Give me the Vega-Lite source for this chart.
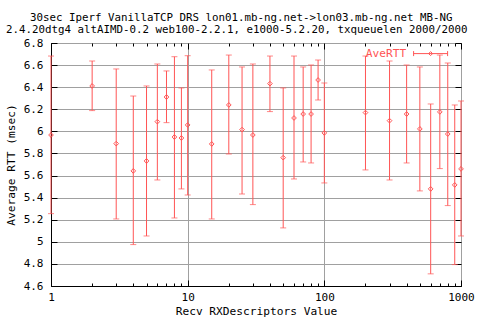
{
  "$schema": "https://vega.github.io/schema/vega-lite/v6.json",
  "width": 410,
  "height": 243,
  "autosize": {"type": "none"},
  "padding": {"left": 51, "top": 43, "right": 19, "bottom": 34},
  "background": "white",
  "title": {
    "text": ["\u2800\u2800\u280030sec Iperf VanillaTCP DRS lon01.mb-ng.net->lon03.mb-ng.net MB-NG", "2.4.20dtg4 altAIMD-0.2 web100-2.2.1, e1000-5.2.20, txqueuelen 2000/2000"],
    "anchor": "start",
    "frame": "group",
    "dx": -45,
    "offset": 2,
    "font": "DejaVu Sans Mono",
    "fontSize": 10.8,
    "fontWeight": "normal",
    "lineHeight": 12,
    "color": "black"
  },
  "config": {
    "view": {"stroke": "black", "strokeWidth": 1},
    "axis": {
      "domainColor": "black",
      "tickColor": "black",
      "gridColor": "#a0a0a0",
      "gridOpacity": 1,
      "labelFont": "DejaVu Sans Mono",
      "labelFontSize": 11,
      "labelColor": "black",
      "titleFont": "DejaVu Sans Mono",
      "titleFontSize": 11.2,
      "titleFontWeight": "normal",
      "titleColor": "black"
    },
    "legend": {
      "labelFont": "DejaVu Sans Mono",
      "labelFontSize": 11.2,
      "labelColor": "#ff5555"
    }
  },
  "data": {
    "values": [
      {"x": 1, "y": 5.967, "lo": 5.255, "hi": 6.682},
      {"x": 2, "y": 6.411, "lo": 6.188, "hi": 6.637},
      {"x": 3, "y": 5.889, "lo": 5.207, "hi": 6.565},
      {"x": 4, "y": 5.642, "lo": 4.975, "hi": 6.320},
      {"x": 5, "y": 5.732, "lo": 5.053, "hi": 6.411},
      {"x": 6, "y": 6.088, "lo": 5.560, "hi": 6.610},
      {"x": 7, "y": 6.311, "lo": 6.079, "hi": 6.547},
      {"x": 8, "y": 5.949, "lo": 5.216, "hi": 6.676},
      {"x": 9, "y": 5.940, "lo": 5.479, "hi": 6.393},
      {"x": 10, "y": 6.058, "lo": 5.424, "hi": 6.685},
      {"x": 15, "y": 5.886, "lo": 5.207, "hi": 6.556},
      {"x": 20, "y": 6.239, "lo": 5.795, "hi": 6.691},
      {"x": 25, "y": 6.016, "lo": 5.433, "hi": 6.583},
      {"x": 30, "y": 5.967, "lo": 5.337, "hi": 6.610},
      {"x": 40, "y": 6.432, "lo": 6.179, "hi": 6.682},
      {"x": 50, "y": 5.762, "lo": 5.126, "hi": 6.393},
      {"x": 60, "y": 6.121, "lo": 5.569, "hi": 6.682},
      {"x": 70, "y": 6.157, "lo": 5.723, "hi": 6.583},
      {"x": 80, "y": 6.157, "lo": 5.714, "hi": 6.601},
      {"x": 90, "y": 6.465, "lo": 6.284, "hi": 6.646},
      {"x": 100, "y": 5.986, "lo": 5.533, "hi": 6.438},
      {"x": 200, "y": 6.170, "lo": 5.651, "hi": 6.682},
      {"x": 300, "y": 6.097, "lo": 5.560, "hi": 6.637},
      {"x": 400, "y": 6.157, "lo": 5.714, "hi": 6.601},
      {"x": 500, "y": 6.022, "lo": 5.461, "hi": 6.583},
      {"x": 600, "y": 5.479, "lo": 4.710, "hi": 6.248},
      {"x": 700, "y": 6.176, "lo": 5.663, "hi": 6.691},
      {"x": 800, "y": 5.976, "lo": 5.328, "hi": 6.619},
      {"x": 900, "y": 5.515, "lo": 4.794, "hi": 6.239},
      {"x": 1000, "y": 5.660, "lo": 5.053, "hi": 6.275}
    ]
  },
  "layer": [
    {
      "mark": {"type": "rule", "color": "#ff5555", "strokeWidth": 1},
      "encoding": {
        "x": {
          "field": "x", "type": "quantitative",
          "scale": {"type": "log", "domain": [1, 1000], "nice": false},
          "axis": {"orient": "bottom", "values": [1, 10, 100, 1000], "grid": true, "tickSize": -6, "labelPadding": 11, "format": "d", "labelFlush": false, "title": "Recv RXDescriptors Value", "titlePadding": 3}
        },
        "y": {
          "field": "lo", "type": "quantitative",
          "scale": {"domain": [4.6, 6.8], "nice": false, "zero": false},
          "axis": {"orient": "left", "values": [4.6, 4.8, 5.0, 5.2, 5.4, 5.6, 5.8, 6.0, 6.2, 6.4, 6.6, 6.8], "format": "~r", "grid": true, "tickSize": -6, "labelPadding": 14, "labelFlush": false, "title": "Average RTT (msec)", "titlePadding": 7}
        },
        "y2": {"field": "hi"}
      }
    },
    {
      "mark": {"type": "tick", "orient": "horizontal", "color": "#ff5555", "size": 6, "thickness": 1},
      "encoding": {
        "x": {"field": "x", "type": "quantitative",
          "axis": {"orient": "bottom", "values": [2,3,4,5,6,7,8,9,20,30,40,50,60,70,80,90,200,300,400,500,600,700,800,900], "grid": false, "labels": false, "domain": false, "tickSize": -3, "title": null}},
        "y": {"field": "hi", "type": "quantitative",
          "axis": {"orient": "right", "values": [4.6, 4.8, 5.0, 5.2, 5.4, 5.6, 5.8, 6.0, 6.2, 6.4, 6.6, 6.8], "grid": false, "labels": false, "domain": false, "tickSize": -6, "title": null}}
      }
    },
    {
      "mark": {"type": "tick", "orient": "horizontal", "color": "#ff5555", "size": 6, "thickness": 1},
      "encoding": {
        "x": {"field": "x", "type": "quantitative",
          "axis": {"orient": "top", "values": [1, 10, 100, 1000], "grid": false, "labels": false, "domain": false, "tickSize": -6, "title": null}},
        "y": {"field": "lo", "type": "quantitative", "axis": null}
      }
    },
    {
      "mark": {"type": "point", "shape": "diamond", "filled": false, "size": 22, "strokeWidth": 1, "opacity": 1},
      "encoding": {
        "x": {"field": "x", "type": "quantitative",
          "axis": {"orient": "top", "values": [2,3,4,5,6,7,8,9,20,30,40,50,60,70,80,90,200,300,400,500,600,700,800,900], "grid": false, "labels": false, "domain": false, "tickSize": -3, "title": null}},
        "y": {"field": "y", "type": "quantitative", "axis": null},
        "color": {
          "datum": "AveRTT",
          "scale": {"range": ["#ff5555"]},
          "legend": {
            "title": null,
            "orient": "none",
            "legendX": 374,
            "legendY": 5,
            "symbolType": "M-3.4,0H3.4M-3.4,-0.5V0.5M3.4,-0.5V0.5M0,-0.4L0.4,0L0,0.4L-0.4,0Z",
            "symbolSize": 100,
            "symbolStrokeColor": "#ff5555",
            "symbolFillColor": "transparent",
            "symbolStrokeWidth": 1,
            "labelAlign": "right",
            "labelOffset": -30
          }
        }
      }
    }
  ],
  "resolve": {"axis": {"x": "independent", "y": "independent"}}
}
